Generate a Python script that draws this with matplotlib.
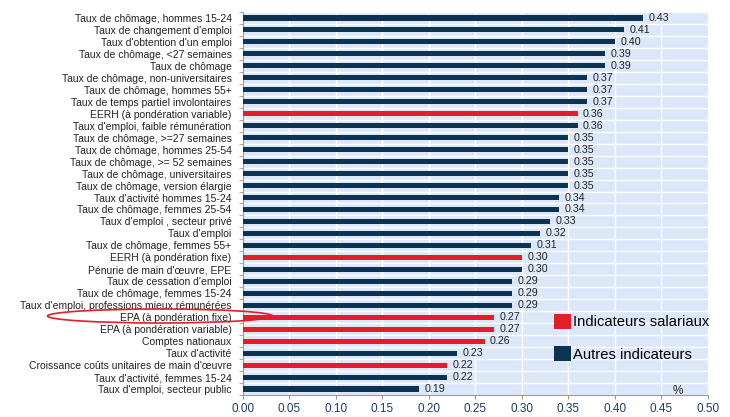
import matplotlib.pyplot as plt
from matplotlib.patches import Patch, Ellipse

plt.rcParams['font.family'] = ['Liberation Sans', 'DejaVu Sans']

labels = [
    "Taux de chômage, hommes 15-24",
    "Taux de changement d'emploi",
    "Taux d'obtention d'un emploi",
    "Taux de chômage, <27 semaines",
    "Taux de chômage",
    "Taux de chômage, non-universitaires",
    "Taux de chômage, hommes 55+",
    "Taux de temps partiel involontaires",
    "EERH (à pondération variable)",
    "Taux d'emploi, faible rémunération",
    "Taux de chômage, >=27 semaines",
    "Taux de chômage, hommes 25-54",
    "Taux de chômage, >= 52 semaines",
    "Taux de chômage, universitaires",
    "Taux de chômage, version élargie",
    "Taux d'activité hommes 15-24",
    "Taux de chômage, femmes 25-54",
    "Taux d'emploi , secteur privé",
    "Taux d'emploi",
    "Taux de chômage, femmes 55+",
    "EERH (à pondération fixe)",
    "Pénurie de main d'œuvre, EPE",
    "Taux de cessation d'emploi",
    "Taux de chômage, femmes 15-24",
    "Taux d'emploi, professions mieux rémunérées",
    "EPA (à pondération fixe)",
    "EPA (à pondération variable)",
    "Comptes nationaux",
    "Taux d'activité",
    "Croissance coûts unitaires de main d'œuvre",
    "Taux d'activité, femmes 15-24",
    "Taux d'emploi, secteur public",
]
values = [0.43, 0.41, 0.40, 0.39, 0.39, 0.37, 0.37, 0.37, 0.36, 0.36,
          0.35, 0.35, 0.35, 0.35, 0.35, 0.34, 0.34, 0.33, 0.32, 0.31,
          0.30, 0.30, 0.29, 0.29, 0.29, 0.27, 0.27, 0.26, 0.23, 0.22,
          0.22, 0.19]
# True = indicateur salarial
salarial = [False, False, False, False, False, False, False, False, True, False,
            False, False, False, False, False, False, False, False, False, False,
            True, False, False, False, False, True, True, True, False, True,
            False, False]

red = '#e41e26'
navy = '#0e3251'
n = len(labels)
ypos = list(range(n))
colors = [red if s else navy for s in salarial]

fig = plt.figure(figsize=(7.3, 4.17), dpi=100)
ax = fig.add_axes([0.3325, 0.0528, 0.9695 - 0.3325, 0.9712 - 0.0528])
ax.set_facecolor('#dce8fa')

ax.barh(ypos, values, height=0.42, color=colors, zorder=3)
for y, v in zip(ypos, values):
    ax.text(v + 0.006, y, f"{v:.2f}", va='center', ha='left', fontsize=7.7,
            color='#222222', zorder=4)

ax.set_xlim(0, 0.5)
ax.set_ylim(n - 0.5, -0.5)
ax.set_xticks([i * 0.05 for i in range(11)])
ax.set_xticklabels([f"{i * 0.05:.2f}" for i in range(11)])
ax.set_yticks(ypos)
ax.set_yticklabels(labels)
ax.set_yticks([i - 0.5 for i in range(n + 1)], minor=True)

ax.tick_params(axis='y', which='major', length=0, pad=8, labelsize=7.5,
               labelcolor='#222222')
ax.tick_params(axis='y', which='minor', length=3, color='#999999')
ax.tick_params(axis='x', length=3, color='#999999', labelsize=8.5,
               labelcolor='#1f3c6b', pad=3)

ax.grid(axis='x', color='white', lw=1, zorder=1)
ax.grid(axis='y', which='minor', color='white', lw=1, zorder=1)
ax.set_axisbelow(True)
for side in ['top', 'right']:
    ax.spines[side].set_visible(False)
for side in ['left', 'bottom']:
    ax.spines[side].set_color('#999999')

ax.text(0.468, 31.2, '%', fontsize=8.5, ha='center', va='center', color='#222222')

handles = [Patch(facecolor=red, label='Indicateurs salariaux'),
           Patch(facecolor=navy, label='Autres indicateurs')]
fig.legend(handles=handles, loc='upper left',
           bbox_to_anchor=(554 / 730, 1 - 314 / 417), frameon=False,
           fontsize=10.6, handlelength=1.15, handleheight=1.15,
           handletextpad=0.15, labelspacing=1.15, borderpad=0,
           borderaxespad=0)

ell = Ellipse((160 / 730, 1 - 316 / 417), 225 / 730, 14 / 417,
              transform=fig.transFigure, fill=False, edgecolor=red, lw=1.2,
              zorder=10)
fig.add_artist(ell)

fig.savefig('out.png', dpi=100)
